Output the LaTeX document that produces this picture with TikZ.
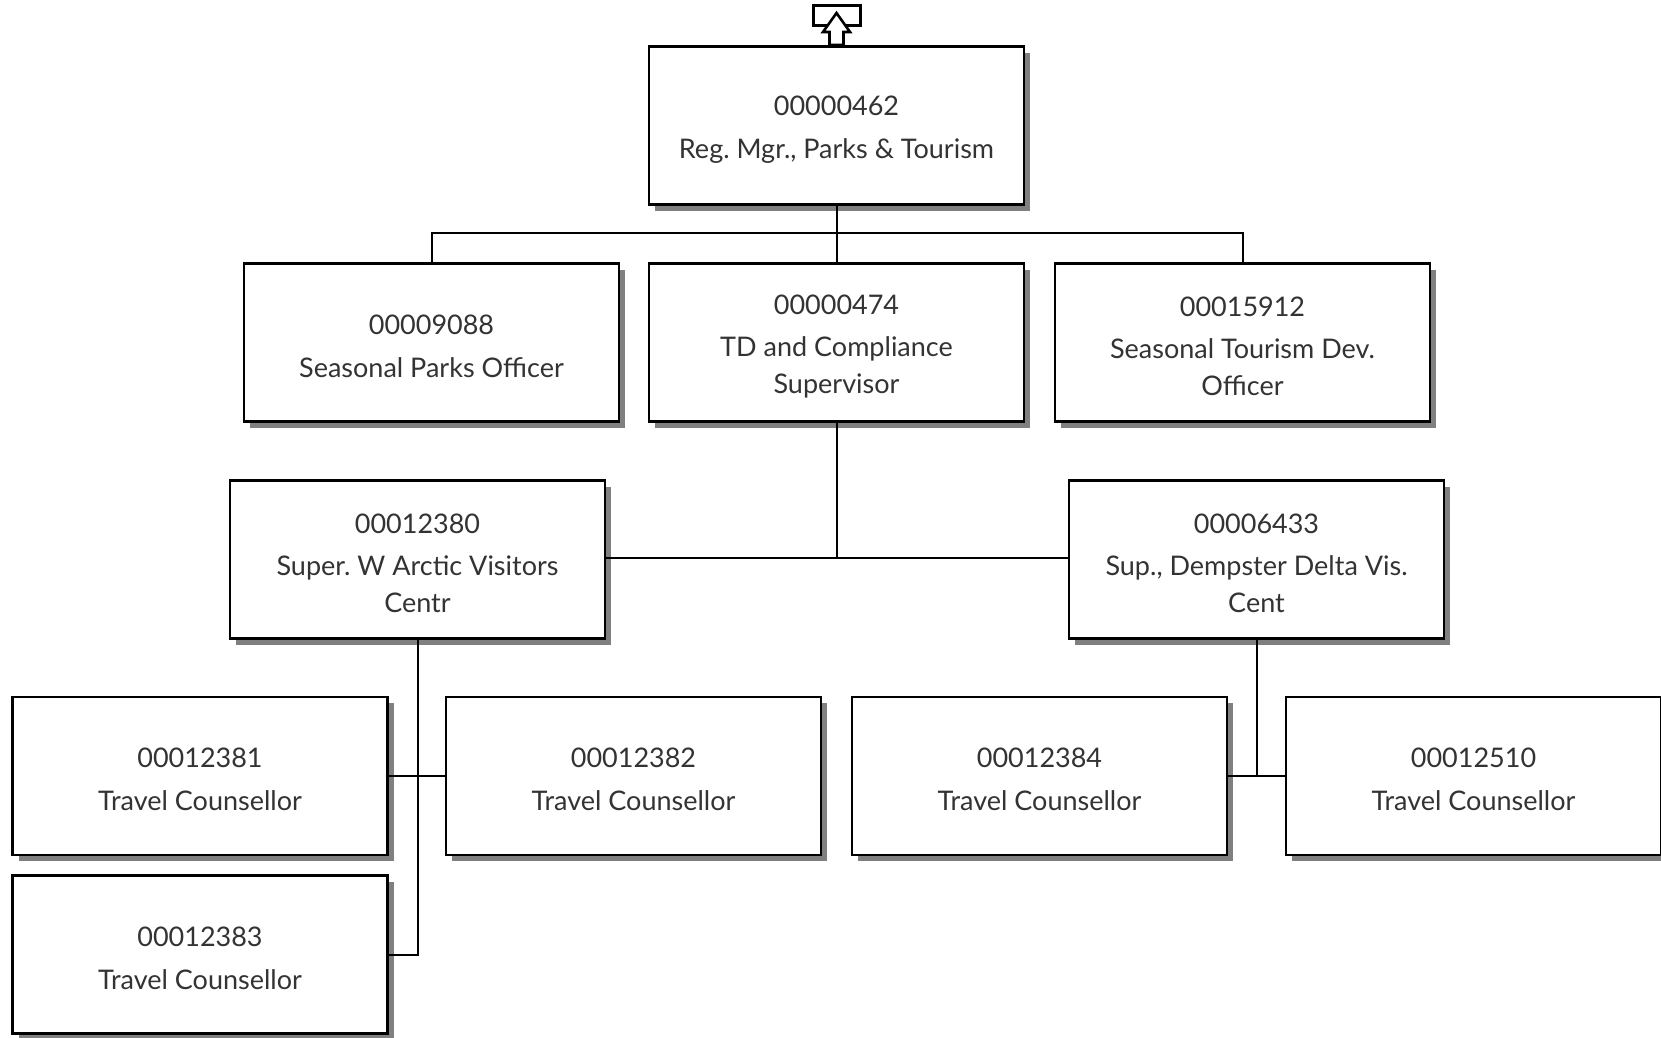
\documentclass[tikz,border=0pt]{standalone}
\usepackage{fontspec}
\setmainfont{Lato}
\frenchspacing
\newcommand\posid[1]{\rule{0pt}{27pt}#1}
\begin{document}
\begin{tikzpicture}[x=1pt,y=-1pt,
  posbox/.style={draw=black, line width=2.2pt, fill=white, minimum width=375pt, minimum height=158pt,
    inner sep=0pt, align=center, font=\fontsize{27}{37}\selectfont\frenchspacing, text=black!80,
    preaction={fill=black!50, draw=none, transform canvas={shift={(6pt,-6pt)}}}},
  conn/.style={draw=black, line width=2pt}]
\useasboundingbox (0,0) rectangle (1661,1037);
\fill[white] (0,0) rectangle (1661,1037);

% nodes
\node[posbox] (top) at (836.5,125.5) {\posid{00000462}\\[6pt]Reg. Mgr., Parks \& Tourism};
\node[posbox] (spo) at (431.5,342.5) {\posid{00009088}\\[6pt]Seasonal Parks Officer};
\node[posbox] (tdc) at (836.5,342.5) {\posid{00000474}\\[5pt]TD and Compliance\\Supervisor};
\node[posbox] (stdo) at (1242.5,342.5) {\posid{00015912}\\[5pt]Seasonal Tourism Dev.\\Officer};
\node[posbox] (wav) at (417.5,559.5) {\posid{00012380}\\[5pt]Super. W Arctic Visitors\\Centr};
\node[posbox] (ddv) at (1256.5,559.5) {\posid{00006433}\\[5pt]Sup., Dempster Delta Vis.\\Cent};
\node[posbox] (t81) at (200,776) {\posid{00012381}\\[6pt]Travel Counsellor};
\node[posbox] (t82) at (633.5,776) {\posid{00012382}\\[6pt]Travel Counsellor};
\node[posbox] (t84) at (1039.5,776) {\posid{00012384}\\[6pt]Travel Counsellor};
\node[posbox] (t10) at (1473.5,776) {\posid{00012510}\\[6pt]Travel Counsellor};
\node[posbox] (t83) at (200,954.5) {\posid{00012383}\\[6pt]Travel Counsellor};

% connectors
\coordinate (bus1) at (836.5,233);
\draw[conn] (top.south) -- (bus1);
\draw[conn] (spo.north) |- (bus1) -| (stdo.north);
\draw[conn] (bus1) -- (tdc.north);
\coordinate (bus2) at (836.5,558);
\draw[conn] (tdc.south) -- (bus2);
\draw[conn] (wav.east |- bus2) -- (ddv.west |- bus2);
\coordinate (lgb) at (417.5,954.5);
\draw[conn] (wav.south) -- (lgb) -- (t83.east);
\draw[conn] (t81.east) -- (t82.west);
\coordinate (rg) at (1256.5,776);
\draw[conn] (ddv.south) -- (rg);
\draw[conn] (t84.east) -- (t10.west);

% up-arrow symbol above the top box
\draw[line width=3pt] (813,5) rectangle (860,25);
\draw[line width=2.6pt, fill=white, line join=miter]
  (836.5,13) -- (850,32) -- (843.5,32) -- (843.5,45) -- (829.5,45) -- (829.5,32) -- (823,32) -- cycle;
\end{tikzpicture}
\end{document}
